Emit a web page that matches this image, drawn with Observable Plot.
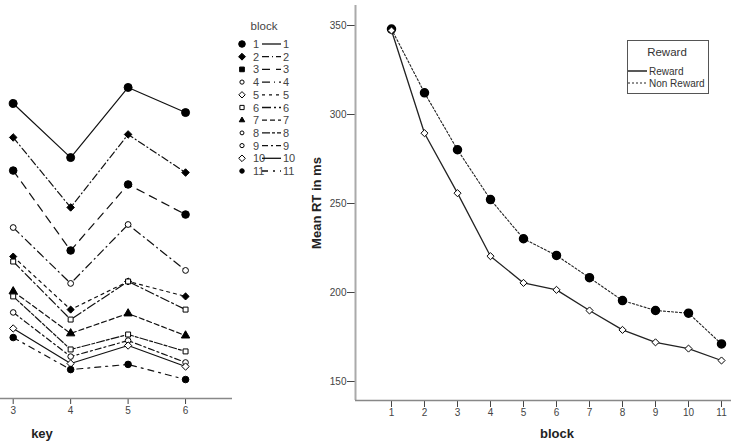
<!DOCTYPE html>
<html><head><meta charset="utf-8">
<script src="https://cdn.jsdelivr.net/npm/d3@7"></script>
<script src="https://cdn.jsdelivr.net/npm/@observablehq/plot@0.6"></script>
<style>
html,body{margin:0;padding:0;background:#fff;}
#wrap{position:relative;width:731px;height:446px;overflow:hidden;font-family:"Liberation Sans",Arial,sans-serif;}
</style></head><body><div id="wrap"></div>
<script>
// ---------- Left chart (key x block), values in ms ----------
const keys = [3, 4, 5, 6];
const blockIds = [1, 2, 3, 4, 5, 6, 7, 8, 9, 10, 11];
const rtBlock1  = [306.2, 275.8, 315.2, 301.1];
const rtBlock2  = [287.1, 247.8, 288.8, 267.4];
const rtBlock3  = [268.5, 223.6, 260.7, 243.8];
const rtBlock4  = [236.5, 205.1, 238.2, 212.4];
const rtBlock5  = [220.2, 190.4, 206.2, 197.8];
const rtBlock6  = [217.4, 184.8, 206.2, 190.4];
const rtBlock7  = [200.6, 177.0, 188.2, 175.8];
const rtBlock8  = [197.8, 168.0, 176.4, 166.9];
const rtBlock9  = [188.8, 164.0, 173.0, 160.7];
const rtBlock10 = [179.8, 160.1, 170.2, 158.4];
const rtBlock11 = [174.7, 156.7, 159.6, 151.1];

// ---------- Right chart (block x reward) ----------
const blocks = [1, 2, 3, 4, 5, 6, 7, 8, 9, 10, 11];
const rewardRT    = [347.2, 289.5, 255.8, 220.4, 205.4, 201.5, 189.9, 179.0, 172.0, 168.5, 161.8];
const nonRewardRT = [348.0, 312.2, 280.2, 252.2, 230.2, 220.8, 208.3, 195.5, 189.9, 188.4, 171.1];
const rtTicks = [150, 200, 250, 300, 350];

// ---------- styles ----------
const blockStyle = {
  1:  {dash: null,        sym: "circle",   filled: true,  r: 4.0, lsym: d3.symbolCircle,   la: 34, lf: true},
  2:  {dash: "7,3,1,3",   sym: "diamond2", filled: true,  r: 3.4, lsym: d3.symbolDiamond2, la: 30, lf: true},
  3:  {dash: "8,6",       sym: "circle",   filled: true,  r: 3.8, lsym: d3.symbolSquare,   la: 22, lf: true},
  4:  {dash: "8,4,1,4",   sym: "circle",   filled: false, r: 2.9, lsym: d3.symbolCircle,   la: 14, lf: false},
  5:  {dash: "3,4",       sym: "diamond2", filled: true,  r: 3.2, lsym: d3.symbolDiamond2, la: 26, lf: false},
  6:  {dash: "9,3,2,3",   sym: "square",   filled: false, r: 2.8, lsym: d3.symbolSquare,   la: 18, lf: false},
  7:  {dash: "5,3",       sym: "triangle", filled: true,  r: 3.1, lsym: d3.symbolTriangle, la: 13, lf: true},
  8:  {dash: "8,2,3,2",   sym: "square",   filled: false, r: 2.8, lsym: d3.symbolCircle,   la: 12, lf: false},
  9:  {dash: "6,3,2,3",   sym: "circle",   filled: false, r: 2.8, lsym: d3.symbolCircle,   la: 14, lf: false},
  10: {dash: null,        sym: "diamond2", filled: false, r: 3.3, lsym: d3.symbolDiamond2, la: 28, lf: false},
  11: {dash: "6,5,2,5",   sym: "circle",   filled: true,  r: 3.3, lsym: d3.symbolCircle,   la: 16, lf: true}
};

const rtByBlock = [rtBlock1, rtBlock2, rtBlock3, rtBlock4, rtBlock5, rtBlock6, rtBlock7, rtBlock8, rtBlock9, rtBlock10, rtBlock11];
const keyData = blockIds.flatMap((b, i) => keys.map((k, j) => ({block: b, key: k, rt: rtByBlock[i][j]})));
const rightData = blocks.flatMap((b, i) => [
  {block: b, group: "Reward", rt: rewardRT[i]},
  {block: b, group: "Non Reward", rt: nonRewardRT[i]}
]);

const wrap = document.getElementById("wrap");
const font = '"Liberation Sans", Arial, sans-serif';

// ---------- Left plot ----------
const leftXDomain = [2.779, 6.817];
const leftYDomain = [140.45, 361.24];
const leftMarks = [
  Plot.ruleY([leftYDomain[0]], {stroke: "#888", strokeWidth: 1.5})
];
for (const b of blockIds) {
  const s = blockStyle[b];
  const d = keyData.filter(d => d.block === b);
  leftMarks.push(Plot.line(d, {x: "key", y: "rt", stroke: "#111", strokeWidth: 1.2, strokeDasharray: s.dash || undefined}));
}
for (const b of blockIds) {
  const s = blockStyle[b];
  const d = keyData.filter(d => d.block === b);
  leftMarks.push(Plot.dot(d, {x: "key", y: "rt", symbol: s.sym, r: s.r, fill: s.filled ? "#000" : "#fff", stroke: "#000", strokeWidth: 1}));
}
const left = Plot.plot({
  width: 240, height: 446,
  marginLeft: 0, marginRight: 8, marginTop: 5, marginBottom: 48,
  style: {fontFamily: font, fontSize: "10px", color: "#444", background: "transparent"},
  x: {domain: leftXDomain, ticks: keys, tickSize: 6, tickPadding: 2, label: null, tickFormat: d => String(d)},
  y: {domain: leftYDomain, axis: null},
  marks: leftMarks
});
left.style.position = "absolute"; left.style.left = "0px"; left.style.top = "0px";
wrap.appendChild(left);

// ---------- Right plot ----------
const rightXDomain = [-0.0909, 11.303];
const rightYDomain = [139.33, 361.24];
const right = Plot.plot({
  width: 431, height: 446,
  marginLeft: 55, marginRight: 0, marginTop: 5, marginBottom: 46,
  style: {fontFamily: font, fontSize: "10px", color: "#444", background: "transparent"},
  x: {domain: rightXDomain, ticks: blocks, tickSize: 7, tickPadding: 1, label: null, tickFormat: d => String(d)},
  y: {domain: rightYDomain, ticks: rtTicks, tickSize: 8, tickPadding: 1, label: null, tickFormat: d => String(d)},
  marks: [
    Plot.ruleX([rightXDomain[0]], {stroke: "#aaa", strokeWidth: 2}),
    Plot.ruleY([rightYDomain[0]], {stroke: "#888", strokeWidth: 1.5}),
    Plot.line(rightData.filter(d => d.group === "Reward"), {x: "block", y: "rt", stroke: "#222", strokeWidth: 1.3}),
    Plot.line(rightData.filter(d => d.group === "Non Reward"), {x: "block", y: "rt", stroke: "#222", strokeWidth: 1.1, strokeDasharray: "2,2"}),
    Plot.dot(rightData.filter(d => d.group === "Non Reward"), {x: "block", y: "rt", symbol: "circle", r: 4.0, fill: "#000", stroke: "#000"}),
    Plot.dot(rightData.filter(d => d.group === "Reward"), {x: "block", y: "rt", symbol: "diamond2", r: 3.2, fill: "#fff", stroke: "#000", strokeWidth: 1})
  ]
});
right.style.position = "absolute"; right.style.left = "300px"; right.style.top = "0px";
wrap.appendChild(right);

// ---------- Overlay: titles and legends ----------
const svg = d3.create("svg").attr("width", 731).attr("height", 446)
  .style("position", "absolute").style("left", "0px").style("top", "0px")
  .style("pointer-events", "none").style("font-family", font);

// axis titles
svg.append("text").attr("x", 42).attr("y", 438).attr("text-anchor", "middle")
  .attr("font-size", 13).attr("font-weight", "bold").attr("fill", "#222").text("key");
svg.append("text").attr("x", 557).attr("y", 438).attr("text-anchor", "middle")
  .attr("font-size", 13).attr("font-weight", "bold").attr("fill", "#222").text("block");
svg.append("text").attr("transform", "translate(321,203) rotate(-90)").attr("text-anchor", "middle")
  .attr("font-size", 13).attr("font-weight", "bold").attr("fill", "#222").text("Mean RT in ms");

// block legend (left chart)
svg.append("text").attr("x", 264).attr("y", 30).attr("text-anchor", "middle")
  .attr("font-size", 11.5).attr("fill", "#444").text("block");
blockIds.forEach((b, i) => {
  const s = blockStyle[b];
  const cy = 44 + 12.7 * i;
  svg.append("path").attr("d", d3.symbol(s.lsym, s.la)())
    .attr("transform", `translate(242,${cy})`)
    .attr("fill", s.lf ? "#000" : "#fff").attr("stroke", "#000").attr("stroke-width", 1);
  svg.append("text").attr("x", 253).attr("y", cy + 4).attr("font-size", 11).attr("fill", "#444").text(String(b));
  svg.append("line").attr("x1", 262).attr("x2", 281).attr("y1", cy).attr("y2", cy)
    .attr("stroke", "#111").attr("stroke-width", 1.3).attr("stroke-dasharray", s.dash || null);
  svg.append("text").attr("x", 283).attr("y", cy + 4).attr("font-size", 11).attr("fill", "#444").text(String(b));
});

// Reward legend (right chart)
svg.append("rect").attr("x", 627.5).attr("y", 40.5).attr("width", 81).attr("height", 53)
  .attr("fill", "#fff").attr("stroke", "#555").attr("stroke-width", 1);
svg.append("text").attr("x", 667).attr("y", 56).attr("text-anchor", "middle")
  .attr("font-size", 11.5).attr("fill", "#333").text("Reward");
svg.append("line").attr("x1", 628).attr("x2", 647).attr("y1", 71).attr("y2", 71)
  .attr("stroke", "#222").attr("stroke-width", 1.5);
svg.append("text").attr("x", 649).attr("y", 74.5).attr("font-size", 10).attr("fill", "#333").text("Reward");
svg.append("line").attr("x1", 628).attr("x2", 647).attr("y1", 83).attr("y2", 83)
  .attr("stroke", "#222").attr("stroke-width", 1).attr("stroke-dasharray", "2,2");
svg.append("text").attr("x", 649).attr("y", 86.5).attr("font-size", 10).attr("fill", "#333").text("Non Reward");

wrap.appendChild(svg.node());
</script></body></html>
